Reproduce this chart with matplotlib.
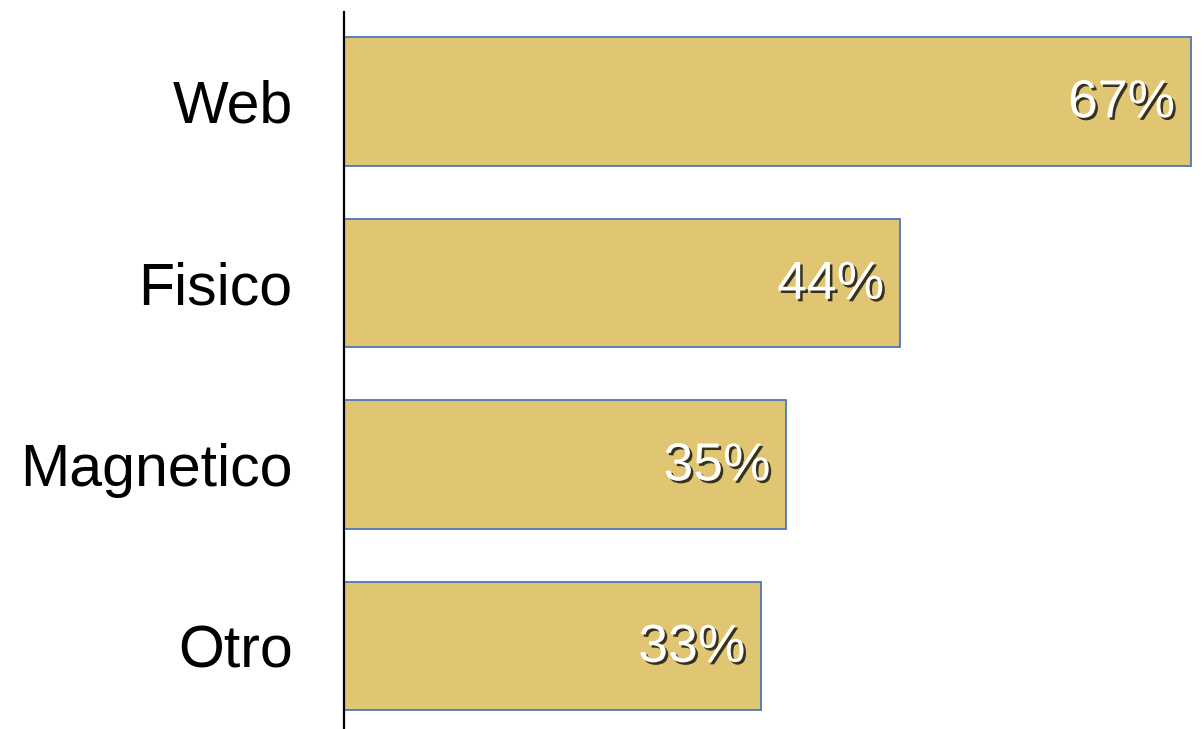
import matplotlib
matplotlib.use("Agg")
import matplotlib.pyplot as plt
import matplotlib.patheffects as pe

categories = ["Web", "Fisico", "Magnetico", "Otro"]
values = [67, 44, 35, 33]
value_labels = ["67%", "44%", "35%", "33%"]

plt.rcParams['font.family'] = ['Liberation Sans', 'DejaVu Sans']

W, H = 1204, 729
fig = plt.figure(figsize=(W / 100, H / 100), dpi=100)
left, right, top, bottom = 344, 1192, 12, 729
ax = fig.add_axes([left / W, 1 - bottom / H, (right - left) / W, (bottom - top) / H])

pos = list(range(len(categories)))
ax.barh(pos, values, height=0.71, color="#E0C673", edgecolor="#4A78B5", linewidth=1.3, zorder=2)

ax.set_xlim(0, 67 * (right - left) / 847)
ax.set_ylim(3.457, -0.493)

for p, v, lab in zip(pos, values, value_labels):
    ax.text(v - 1.25, p + 0.01, lab, ha="right", va="center", fontsize=38.5, color="white",
            path_effects=[pe.withSimplePatchShadow(offset=(1.8, -1.8), shadow_rgbFace="black", alpha=0.75)],
            zorder=3)

ax.set_yticks(pos)
ax.set_yticklabels(categories, fontsize=42.5)
ax.tick_params(axis="y", length=0, pad=37)
ax.set_xticks([])
for s in ["top", "right", "bottom"]:
    ax.spines[s].set_visible(False)
ax.spines["left"].set_linewidth(1.6)
ax.spines["left"].set_color("black")

fig.savefig("out.png", dpi=100)
